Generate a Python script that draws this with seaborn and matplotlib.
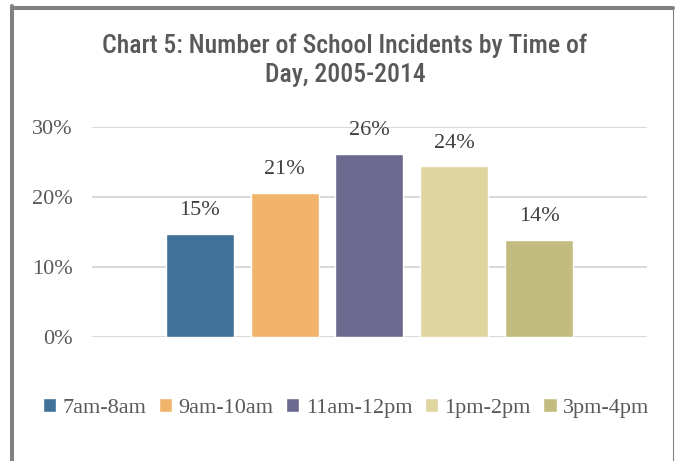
import matplotlib
matplotlib.use("Agg")
import matplotlib.pyplot as plt
import seaborn as sns
import pandas as pd
from matplotlib.lines import Line2D

# === Data ===
time_slots = ["7am-8am", "9am-10am", "11am-12pm", "1pm-2pm", "3pm-4pm"]
incident_pct = [14.7, 20.6, 26.2, 24.4, 13.9]
bar_colors = ["#3F7199", "#F2B36B", "#6B698E", "#DFD59F", "#C2BC80"]
y_ticks = [0, 10, 20, 30]
title = "Chart 5: Number of School Incidents by Time of\nDay, 2005-2014"

df = pd.DataFrame({"slot": time_slots, "pct": incident_pct})

# === Style ===
sns.set_theme(style="white")
plt.rcParams["font.family"] = ["Liberation Serif", "DejaVu Serif"]

fig = plt.figure(figsize=(6.75, 4.61), dpi=100)
ax = fig.add_axes([0.1363, 0.2690, 0.8222, 0.4549])

sns.barplot(data=df, x="slot", y="pct", hue="slot", palette=bar_colors,
            width=0.8, saturation=1, legend=True, ax=ax)

# labels above bars
for cont in ax.containers:
    ax.bar_label(cont, labels=[f"{v:.0f}%" for v in cont.datavalues],
                 padding=10, fontsize=16, color="#404040")

ax.set_xlim(-1.265, 5.265)
ax.set_ylim(0, 30)
ax.set_yticks(y_ticks)
ax.set_yticklabels([f"{t}%" for t in y_ticks], fontsize=16, color="#595959")
ax.set_xticks([])
ax.set_xlabel("")
ax.set_ylabel("")
ax.tick_params(axis="y", length=0, pad=14)
ax.grid(axis="y", color="#D9D9D9", linewidth=1.5)
ax.set_axisbelow(True)
sns.despine(ax=ax, left=True, bottom=True)

# legend along the bottom
handles, labels = ax.get_legend_handles_labels()
ax.legend(handles, labels, loc="center", bbox_to_anchor=(0.5126, 0.1150),
          bbox_transform=fig.transFigure, ncol=5, frameon=False, fontsize=16,
          labelcolor="#595959", handlelength=0.6, handleheight=0.6,
          handletextpad=0.3, columnspacing=0.55, borderpad=0)

# title
fig.text(0.511, 1 - 60 / 461, title, ha="center", va="center",
         fontsize=18.5, fontweight="medium", color="#595959", linespacing=1.25,
         family=["Liberation Sans Narrow", "Roboto Condensed", "Roboto", "DejaVu Sans"])

# chart border
W, H = 675, 461
fig.add_artist(Line2D([12 / W, 673 / W], [1 - 8 / H, 1 - 8 / H], color="#808080",
                      linewidth=2.9, transform=fig.transFigure))
fig.add_artist(Line2D([12 / W, 12 / W], [0, 1 - 6 / H], color="#808080",
                      linewidth=2.9, transform=fig.transFigure))
fig.add_artist(Line2D([673 / W, 673 / W], [0, 1 - 8 / H], color="#808080",
                      linewidth=0.8, transform=fig.transFigure))

fig.savefig("out.png", dpi=100)
